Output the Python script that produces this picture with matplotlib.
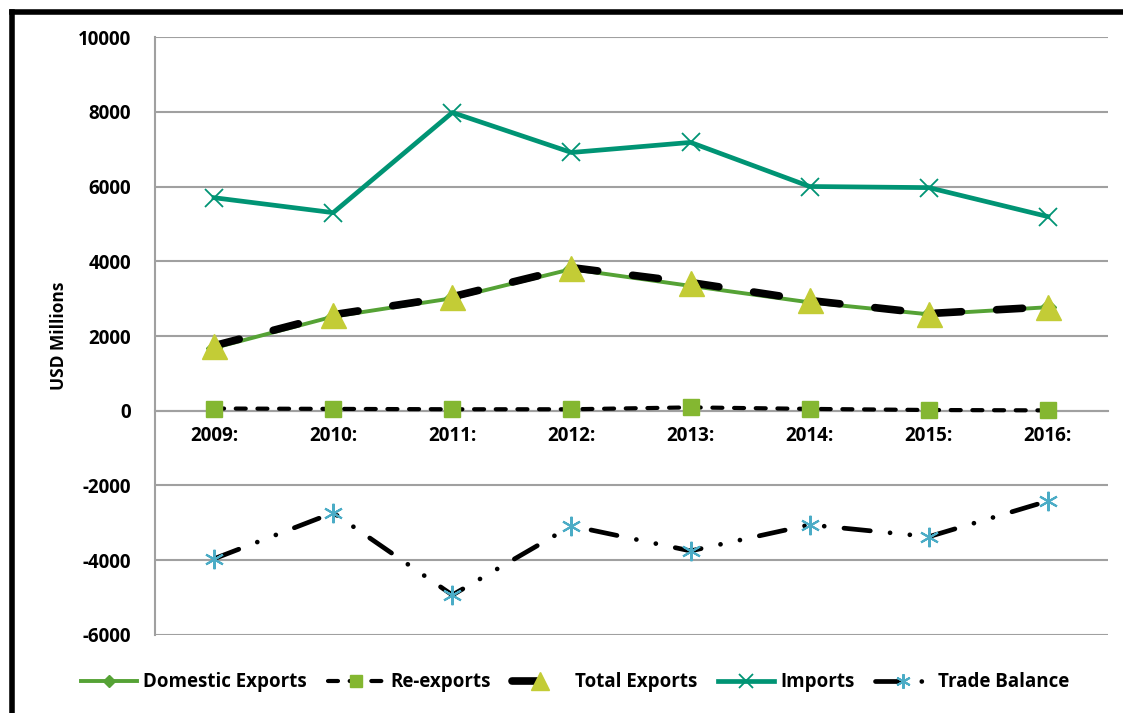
import matplotlib
matplotlib.use("Agg")
import matplotlib.pyplot as plt
from matplotlib.lines import Line2D

plt.rcParams["font.family"] = ["Open Sans", "DejaVu Sans"]
plt.rcParams["font.weight"] = "bold"
plt.rcParams["axes.unicode_minus"] = False

years = ["2009:", "2010:", "2011:", "2012:", "2013:", "2014:", "2015:", "2016:"]
re_exports = [60, 50, 40, 40, 90, 50, 20, 10]
total_exports = [1740, 2570, 3050, 3830, 3430, 2950, 2600, 2780]
domestic_exports = [t - r for t, r in zip(total_exports, re_exports)]
imports = [5700, 5300, 7980, 6910, 7180, 6000, 5970, 5195]
trade_balance = [-3960, -2730, -4930, -3080, -3750, -3050, -3370, -2415]

x = list(range(len(years)))

fig = plt.figure(figsize=(11.23, 7.13), dpi=100)
ax = fig.add_axes([0.1376, 0.1094, 0.8486, 0.8387])

# series, drawn in Excel order
ax.plot(x, domestic_exports, color="#55A235", lw=2.8, marker="D", ms=8,
        label="Domestic Exports", zorder=3)
ax.plot(x, re_exports, color="black", lw=3, dashes=(2.4, 2.8),
        dash_capstyle="round", marker="s", ms=12, mfc="#84B731", mec="#84B731",
        label="Re-exports", zorder=4)
ax.plot(x, total_exports, color="black", lw=5.5, dashes=(3.4, 4.6),
        dash_capstyle="round", marker="^", ms=18, mfc="#C3CC36", mec="#C3CC36",
        label="Total Exports", zorder=5)
ax.plot(x, imports, color="#009474", lw=3.4, marker="x", ms=13, mew=1.3,
        mec="#009474", label="Imports", zorder=6)
ax.plot(x, trade_balance, color="black", lw=3.4, dashes=(5.6, 4.2, 0.01, 4.2, 0.01, 4.2),
        dash_capstyle="round", marker=(6, 2, 0), ms=14, mew=1.5, mec="#4BACC6",
        label="Trade Balance", zorder=7)

ax.set_xlim(-0.5, len(years) - 0.5)
ax.set_ylim(-6000, 10000)
ax.set_yticks(range(-6000, 10001, 2000))
ax.grid(axis="y", color="#A0A0A0", lw=1.5, zorder=0)
ax.set_axisbelow(True)

for side in ["top", "right"]:
    ax.spines[side].set_visible(False)
ax.spines["left"].set_color("#A0A0A0")
ax.spines["left"].set_linewidth(1.5)
ax.spines["bottom"].set_position(("data", 0))
ax.spines["bottom"].set_color("#A0A0A0")
ax.spines["bottom"].set_linewidth(1.5)

ax.set_xticks(x)
ax.set_xticklabels(years)
ax.tick_params(axis="x", length=0, pad=11, labelsize=13.5)
ax.tick_params(axis="y", length=0, pad=17, labelsize=13.5)
ax.set_ylabel("USD Millions", fontsize=12.5, fontweight="bold", labelpad=7)

ax.legend(loc="center", bbox_to_anchor=(0.512, 0.043), bbox_transform=fig.transFigure,
          ncol=5, frameon=False, fontsize=13.5, handlelength=3.0,
          columnspacing=1.1, handletextpad=0.35, markerscale=0.75)

# outer black border (left and top visible)
fig.add_artist(Line2D([12 / 1123, 12 / 1123], [0, 1 - 12 / 713], color="black",
                      lw=4, transform=fig.transFigure))
fig.add_artist(Line2D([12 / 1123, 1], [1 - 12 / 713, 1 - 12 / 713], color="black",
                      lw=4, transform=fig.transFigure))

fig.savefig("out.png", dpi=100)
